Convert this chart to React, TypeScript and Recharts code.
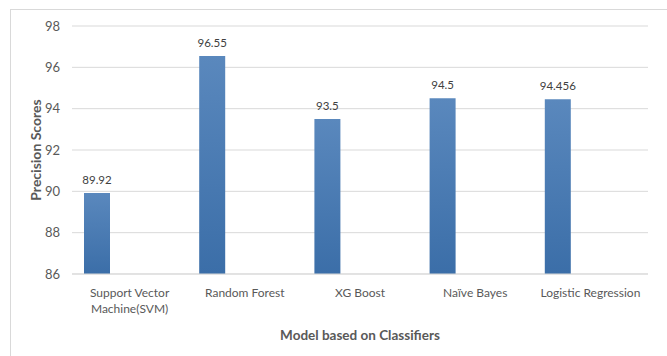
import { BarChart, Bar, XAxis, YAxis, CartesianGrid, LabelList, Label } from "recharts";

const FONT = "Lato, 'Open Sans', sans-serif";
const INK = "#595959";

// "\n" marks where a category name breaks onto a second line
const models = [
  "Support Vector\nMachine(SVM)",
  "Random Forest",
  "XG Boost",
  "Naïve Bayes",
  "Logistic Regression",
];
const precision = [89.92, 96.55, 93.5, 94.5, 94.456];
const yTicks = [86, 88, 90, 92, 94, 96, 98];

const chartData = models.map((model, i) => ({ model, precision: precision[i] }));

function ModelTick({ x, y, payload }: { x?: number; y?: number; payload?: { value: string } }) {
  const lines = String(payload?.value ?? "").split("\n");
  return (
    <text
      x={x}
      y={y}
      textAnchor="middle"
      fill={INK}
      style={{ fontFamily: FONT, fontSize: 12 }}
    >
      {lines.map((line, i) => (
        <tspan key={i} x={x} dy={i === 0 ? 9 : 16}>
          {line}
        </tspan>
      ))}
    </text>
  );
}

export default function App() {
  return (
    <div
      style={{
        position: "absolute",
        left: 0,
        top: 0,
        width: 667,
        height: 356,
        overflow: "hidden",
        background: "#fff",
        fontFamily: FONT,
      }}
    >
      <div
        style={{
          position: "absolute",
          left: 10,
          top: 9,
          width: 700,
          height: 400,
          border: "1px solid #d9d9d9",
        }}
      />
      <BarChart
        width={667}
        height={356}
        data={chartData}
        margin={{ top: 26, right: 19, left: 8, bottom: 0 }}
        barSize={26}
        barGap={39}
        style={{ position: "absolute", left: 0, top: 0 }}
      >
        <defs>
          <linearGradient id="barFill" x1="0" y1="0" x2="0" y2="1">
            <stop offset="0%" stopColor="#5a88bd" />
            <stop offset="100%" stopColor="#3b6ea8" />
          </linearGradient>
        </defs>
        <CartesianGrid vertical={false} stroke="#d9d9d9" />
        <XAxis
          dataKey="model"
          height={82}
          interval={0}
          axisLine={{ stroke: "#d9d9d9" }}
          tickLine={false}
          tickSize={0}
          tickMargin={14}
          tick={<ModelTick />}
        >
          <Label
            value="Model based on Classifiers"
            position="insideBottom"
            offset={16}
            fill={INK}
            style={{ fontFamily: FONT, fontSize: 13.5, fontWeight: 700 }}
          />
        </XAxis>
        <YAxis
          domain={[86, 98]}
          ticks={yTicks}
          width={64}
          axisLine={false}
          tickLine={false}
          tickSize={0}
          tickMargin={12}
          tick={{ fill: INK, fontSize: 13, fontFamily: FONT }}
        >
          <Label
            value="Precision Scores"
            angle={-90}
            position="insideLeft"
            offset={28}
            fill={INK}
            style={{ textAnchor: "middle", fontFamily: FONT, fontSize: 14, fontWeight: 700 }}
          />
        </YAxis>
        <Bar dataKey="precision" fill="url(#barFill)" isAnimationActive={false}>
          <LabelList
            dataKey="precision"
            position="top"
            offset={9}
            fill="#404040"
            style={{ fontFamily: FONT, fontSize: 11.5 }}
          />
        </Bar>
        {/* empty companion series keeps the bars on the left of each slot */}
        <Bar dataKey="blank" fill="none" legendType="none" isAnimationActive={false} />
      </BarChart>
    </div>
  );
}
